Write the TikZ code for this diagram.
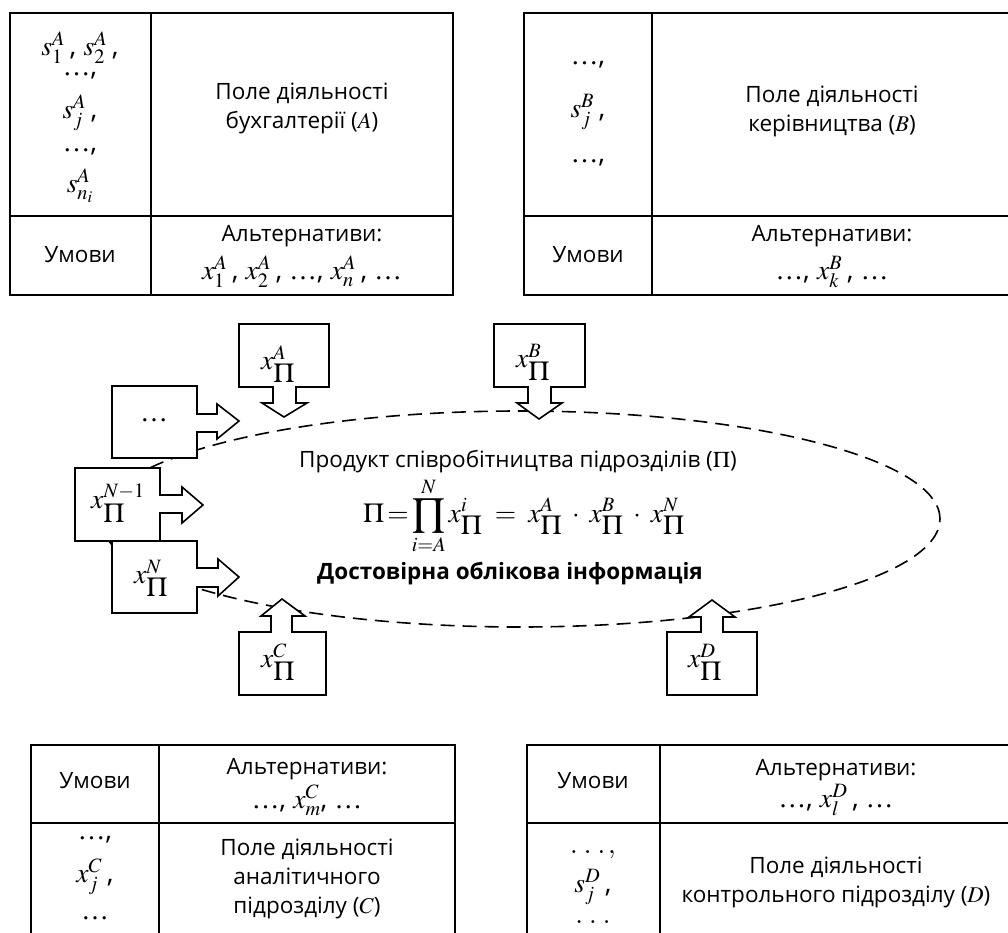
\documentclass[tikz,border=0pt]{standalone}
\usepackage{mathptmx}
\usepackage[no-math]{fontspec}
\setmainfont{Open Sans}
\newfontfamily\tms{Liberation Serif}
\usetikzlibrary{shapes.geometric}
\newcommand{\xP}[1]{x^{#1}_{\textstyle\Pi}}
\newcommand{\el}{{\tms …}}
\begin{document}
\begin{tikzpicture}[x=1pt,y=-1pt,
  tline/.style={line width=1.6pt},
  abox/.style={line width=1.6pt, fill=white, line join=miter},
  txt/.style={font=\fontsize{22.5}{29}\selectfont, inner sep=0pt, align=center},
  mth/.style={font=\fontsize{27.5}{30}\selectfont, inner sep=0pt, align=center},
]
\useasboundingbox (0,0) rectangle (1008,933);
\clip (0,0) rectangle (1008,933);

% ---------- table A ----------
\draw[tline] (10,13) rectangle (453,295);
\draw[tline] (151,13) -- (151,295);
\draw[tline] (10,216) -- (453,216);
\node[mth] (a1) at (80,48) {$s_1^{A}$\,, $s_2^{A}$\,,};
\node[mth] (a2) at (80,76) {\el,};
\node[mth] (a3) at (80,113) {$s_j^{A}$\,,};
\node[mth] (a4) at (80,152) {\el,};
\node[mth] (a5) at (80,186) {$s_{n_i}^{A}$};
\node[txt] (a6) at (302,108) {Поле діяльності\\бухгалтерії (\(A\))};
\node[txt] (a7) at (80,255) {Умови};
\node[txt] (a8) at (302,236) {Альтернативи:};
\node[mth] (a9) at (302,272) {$x_1^{A}$\,, $x_2^{A}$\,, \el, $x_n^{A}$\,, \el};

% ---------- table B ----------
\draw[tline] (524,13) rectangle (1012,295);
\draw[tline] (652,13) -- (652,295);
\draw[tline] (524,216) -- (1012,216);
\node[mth] (b1) at (588,65) {\el,};
\node[mth] (b2) at (588,112) {$s_j^{B}$\,,};
\node[mth] (b3) at (588,163) {\el,};
\node[txt] (b4) at (832,111) {Поле діяльності\\керівництва (\(B\))};
\node[txt] (b5) at (588,255) {Умови};
\node[txt] (b6) at (832,236) {Альтернативи:};
\node[mth] (b7) at (832,272) {\el, $x_k^{B}$\,, \el};

% ---------- table C ----------
\draw[tline] (31,745) rectangle (455,960);
\draw[tline] (159,745) -- (159,960);
\draw[tline] (31,823) -- (455,823);
\node[txt] (c1) at (95,781) {Умови};
\node[txt] (c2) at (307,769) {Альтернативи:};
\node[mth] (c3) at (307,800) {\el, $x_m^{C}$, \el};
\node[mth] (c4) at (95,840) {\el,};
\node[mth] (c5) at (95,877) {$x_j^{C}$\,,};
\node[mth] (c6) at (95,918) {\el};
\node[txt] (c7) at (307,879) {Поле діяльності\\аналітичного\\підрозділу (\(C\))};

% ---------- table D ----------
\draw[tline] (527,745) rectangle (1012,960);
\draw[tline] (660,745) -- (660,960);
\draw[tline] (527,823) -- (1012,823);
\node[txt] (d1) at (593,781) {Умови};
\node[txt] (d2) at (836,770) {Альтернативи:};
\node[mth] (d3) at (836,800) {\el, $x_l^{D}$\,, \el};
\node[mth] (d4) at (593,855) {$.\;.\;.\,,$};
\node[mth] (d5) at (593,887) {$s_j^{D}$\,,};
\node[mth] (d6) at (593,922) {$.\;.\;.$};
\node[txt] (d7) at (836,882) {Поле діяльності\\контрольного підрозділу (\(D\))};

% ---------- central ellipse ----------
\node[draw, ellipse, line width=1.6pt, dash pattern=on 14pt off 8pt,
      minimum width=840pt, minimum height=216pt, inner sep=0pt] (prod) at (520,519) {};

% ---------- contribution boxes ----------
\draw[abox] (112,386) -- (197,386) -- (197,414) -- (217,414) -- (217,404) -- (239,421)
  -- (217,439) -- (217,432) -- (197,432) -- (197,458) -- (112,458) -- cycle;
\draw[abox] (75,468) -- (160,468) -- (160,495) -- (182,495) -- (182,487) -- (203,505)
  -- (182,523) -- (182,513) -- (160,513) -- (160,541) -- (75,541) -- cycle;
\draw[abox] (112,541) -- (197,541) -- (197,568) -- (218,568) -- (218,559) -- (239,577)
  -- (218,596) -- (218,587) -- (197,587) -- (197,613) -- (112,613) -- cycle;
\draw[abox] (239,324) -- (329,324) -- (329,387) -- (296,387) -- (296,403) -- (307,403)
  -- (284,417) -- (262,403) -- (273,403) -- (273,387) -- (239,387) -- cycle;
\draw[abox] (494,324) -- (585,324) -- (585,387) -- (551,387) -- (551,403) -- (562,403)
  -- (539,419) -- (517,403) -- (528,403) -- (528,387) -- (494,387) -- cycle;
\draw[abox] (239,632) -- (271,632) -- (271,616) -- (261,616) -- (282,599) -- (305,616)
  -- (292,616) -- (292,632) -- (326,632) -- (326,695) -- (239,695) -- cycle;
\draw[abox] (667,632) -- (701,632) -- (701,617) -- (689,617) -- (712,600) -- (735,617)
  -- (723,617) -- (723,632) -- (757,632) -- (757,695) -- (667,695) -- cycle;

\node[mth] (ldots) at (154,420) {\el};
\node[mth] (lnm1) at (118,503) {$\xP{N-1}$};
\node[mth] (ln) at (151,578) {$\xP{N}$};
\node[mth] (la) at (278,364) {$\xP{A}$};
\node[mth] (lb) at (533,362) {$\xP{B}$};
\node[mth] (lc) at (278,662) {$\xP{C}$};
\node[mth] (ld) at (705,662) {$\xP{D}$};

% ---------- central texts ----------
\node[txt] (t1) at (518,462) {Продукт співробітництва підрозділів (\(\Pi\))};
\node[mth] (t2) at (524,516) {$\displaystyle \Pi\!=\!\prod_{i=A}^{N} \xP{i} \;=\; \xP{A}\;\cdot\;\xP{B}\;\cdot\;\xP{N}$};
\node[txt, font=\fontsize{22.5}{29}\selectfont\bfseries] (t3) at (510,574) {Достовірна облікова інформація};
\end{tikzpicture}
\end{document}
